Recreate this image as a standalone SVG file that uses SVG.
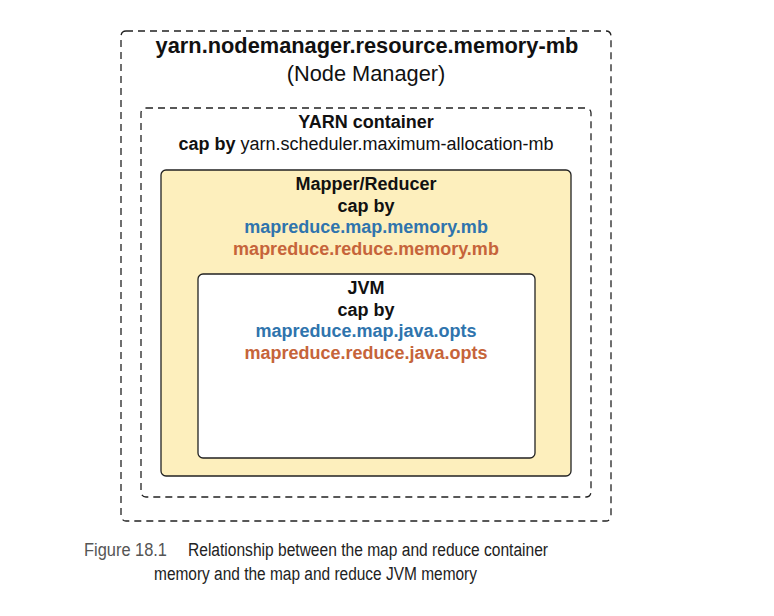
<svg xmlns="http://www.w3.org/2000/svg" width="774" height="616" viewBox="0 0 774 616">
<style>
.dash{fill:none;stroke:#222;stroke-width:1.3;stroke-dasharray:7 5}
.solid{stroke:#222;stroke-width:1.3}
text{font-family:"Liberation Sans",Arial,sans-serif;text-anchor:middle;fill:#111}
.t{font-size:21.8px}
.m{font-size:18px}
.b{font-weight:bold}
.blue{fill:#2f74ad;font-weight:bold}
.orange{fill:#c6643a;font-weight:bold}
.cap{font-size:18px;fill:#222;text-anchor:start}
</style>
<rect width="774" height="616" fill="#fff"/>
<g id="nodemanager">
<rect class="dash" x="121" y="31" width="490" height="490" rx="5"/>
<text x="367" y="53" class="t b">yarn.nodemanager.resource.memory-mb</text>
<text x="366" y="81" class="t">(Node Manager)</text>
</g>
<g id="container">
<rect class="dash" x="141" y="108" width="450" height="389" rx="5"/>
<text x="366" y="128" class="m b">YARN container</text>
<text x="366" y="150" class="m"><tspan font-weight="bold">cap by</tspan> yarn.scheduler.maximum-allocation-mb</text>
</g>
<g id="mapreducer">
<rect class="solid" x="161" y="170" width="410" height="306" rx="5" fill="#fdefbd"/>
<text x="366" y="190" class="m b">Mapper/Reducer</text>
<text x="366" y="212" class="m b">cap by</text>
<text x="366" y="233" class="m blue">mapreduce.map.memory.mb</text>
<text x="366" y="255" class="m orange">mapreduce.reduce.memory.mb</text>
</g>
<g id="jvm">
<rect class="solid" x="198" y="274" width="337" height="184" rx="5" fill="#fff"/>
<text x="366" y="294" class="m b">JVM</text>
<text x="366" y="316" class="m b">cap by</text>
<text x="366" y="337" class="m blue">mapreduce.map.java.opts</text>
<text x="366" y="359" class="m orange">mapreduce.reduce.java.opts</text>
</g>
<g id="connectors"></g>
<g id="caption">
<text class="cap" x="84" y="556" style="fill:#555" textLength="83" lengthAdjust="spacingAndGlyphs">Figure 18.1</text>
<text class="cap" x="188" y="556" textLength="360" lengthAdjust="spacingAndGlyphs">Relationship between the map and reduce container</text>
<text class="cap" x="154" y="580" textLength="323" lengthAdjust="spacingAndGlyphs">memory and the map and reduce JVM memory</text>
</g>
</svg>
